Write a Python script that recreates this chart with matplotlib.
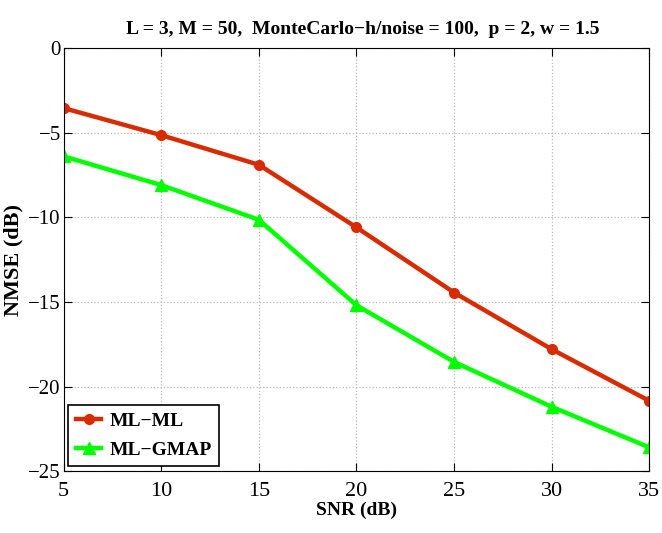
import matplotlib
matplotlib.use('Agg')
import matplotlib.pyplot as plt

snr = [5, 10, 15, 20, 25, 30, 35]
nmse_ml_ml = [-3.55, -5.15, -6.9, -10.6, -14.45, -17.8, -20.85]
nmse_ml_gmap = [-6.4, -8.1, -10.15, -15.2, -18.55, -21.2, -23.6]

plt.rcParams['font.family'] = ['Liberation Serif', 'DejaVu Serif']

fig = plt.figure(figsize=(6.62, 5.33), dpi=100)
ax = fig.add_axes([0.096, 0.116, 0.885, 0.794])

ax.plot(snr, nmse_ml_ml, '-o', color='#d92b00', lw=3.2, ms=7,
        mfc='#d92b00', mec='#d92b00', label='ML\u2212ML')
ax.plot(snr, nmse_ml_gmap, '-^', color='#00ff00', lw=3.2, ms=9,
        mfc='#00ff00', mec='#00ff00', label='ML\u2212GMAP')

ax.set_xlim(5, 35)
ax.set_ylim(-25, 0)
ax.set_xticks(range(5, 36, 5))
ax.set_yticks(range(-25, 1, 5))
ax.set_yticklabels(['\u221225', '\u221220', '\u221215', '\u221210', '\u22125', '0'])
ax.tick_params(direction='in', labelsize=16, length=6, top=True, right=True)
ax.tick_params(axis='x', pad=8)
ax.tick_params(axis='y', pad=2, labelsize=15)
ax.grid(True, linestyle=':', color='#b8b8b8', lw=0.9)

ax.set_xlabel('SNR (dB)', fontsize=14, fontweight='bold', labelpad=0)
ax.set_ylabel('NMSE (dB)', fontsize=16, fontweight='bold')
ax.yaxis.set_label_coords(-0.068, 0.5)
ax.set_title('L = 3, M = 50,  MonteCarlo\u2212h/noise = 100,  p = 2, w = 1.5',
             fontsize=14, fontweight='bold', pad=10, x=0.51)

leg = ax.legend(loc='lower left', prop={'weight': 'bold', 'size': 14},
                fancybox=False, edgecolor='black', framealpha=1,
                handlelength=1.3, borderpad=0.4, labelspacing=0.55,
                borderaxespad=0.25, handletextpad=0.4)
leg.get_frame().set_linewidth(1.2)

fig.savefig('out.png', dpi=100)
